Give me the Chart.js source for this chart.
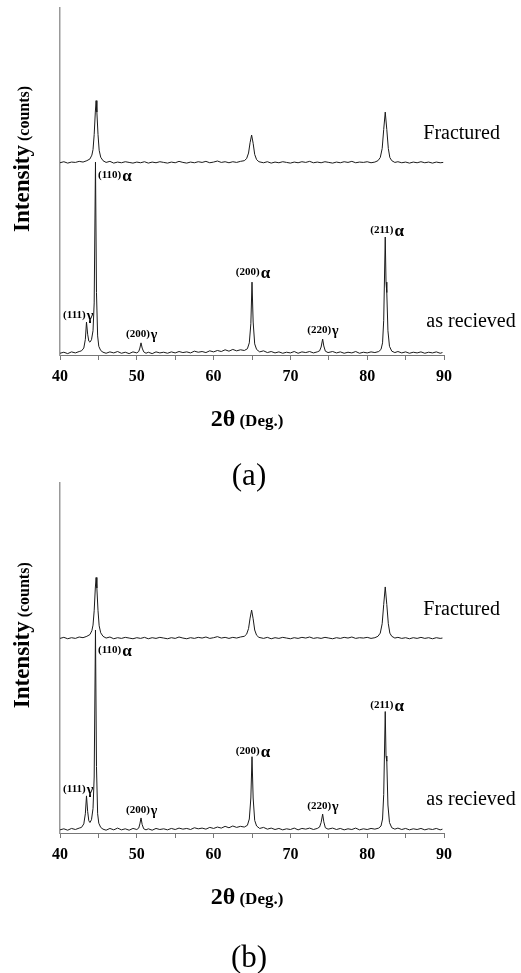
<!DOCTYPE html>
<html><head><meta charset="utf-8">
<script src="https://cdn.jsdelivr.net/npm/chart.js@4.4.1/dist/chart.umd.min.js"></script>
<style>
html,body{margin:0;padding:0;background:#fff;width:521px;height:973px;overflow:hidden;}
.panel{position:absolute;left:0;width:521px;}
#pa{top:0;height:500px;}
#pb{top:475px;height:498px;}
</style></head><body>
<div class="panel" id="pa"><canvas id="ca" width="521" height="500"></canvas></div>
<div class="panel" id="pb"><canvas id="cb" width="521" height="498"></canvas></div>
<script>
// ---- data (2θ in degrees, intensity in arbitrary units, traces offset) ----
const xTicks = [40, 50, 60, 70, 80, 90];
const seriesNames = ['Fractured', 'as recieved'];
const panelNames = ['(a)', '(b)'];
const peakHkl = ['(111)', '(110)', '(200)', '(200)', '(220)', '(211)'];
const peakPhase = ['γ', 'α', 'γ', 'α', 'γ', 'α'];

const fracturedA = [[40.0,55.4],[40.5,55.7],[41.0,55.3],[41.5,55.6],[42.0,55.5],[42.5,55.8],[43.0,55.6],[43.5,56.0],[43.9,56.5],[44.15,57.6],[44.3,59.2],[44.45,63.5],[44.6,70],[44.7,73.3],[44.8,70],[44.95,63.5],[45.1,59],[45.3,57],[45.6,56.0],[46.0,55.5],[46.5,55.8],[47.0,55.3],[47.5,55.6],[48.0,55.4],[48.5,55.7],[49.0,55.5],[49.5,55.3],[50.0,55.6],[50.5,55.4],[51.0,55.7],[51.5,55.3],[52.0,55.6],[52.5,55.4],[53.0,55.7],[53.5,55.5],[54.0,55.3],[54.5,55.6],[55.0,55.4],[55.5,55.8],[56.0,55.5],[56.5,55.3],[57.0,55.6],[57.5,55.4],[58.0,55.7],[58.5,55.5],[59.0,55.8],[59.5,55.4],[60.0,55.6],[60.5,55.9],[61.0,55.5],[61.5,55.7],[62.0,55.4],[62.5,55.7],[63.0,55.5],[63.5,55.8],[64.0,56.0],[64.3,56.6],[64.55,58.2],[64.75,61.2],[64.95,63.4],[65.15,61.0],[65.35,57.8],[65.6,56.3],[65.9,55.7],[66.5,55.4],[67.0,55.7],[67.5,55.3],[68.0,55.6],[68.5,55.4],[69.0,55.7],[69.5,55.5],[70.0,55.3],[70.5,55.6],[71.0,55.4],[71.5,55.7],[72.0,55.5],[72.5,55.8],[73.0,55.4],[73.5,55.6],[74.0,55.4],[74.5,55.7],[75.0,55.5],[75.5,55.3],[76.0,55.6],[76.5,55.4],[77.0,55.7],[77.5,55.5],[78.0,55.8],[78.5,55.4],[79.0,55.6],[79.5,55.5],[80.0,55.7],[80.5,55.4],[81.0,55.6],[81.4,56.0],[81.7,56.9],[81.95,59.5],[82.15,65],[82.35,70.0],[82.55,65],[82.75,59.5],[82.95,56.9],[83.2,56.0],[83.6,55.5],[84.0,55.7],[84.5,55.4],[85.0,55.6],[85.5,55.3],[86.0,55.6],[86.5,55.4],[87.0,55.7],[87.5,55.4],[88.0,55.6],[88.5,55.3],[89.0,55.6],[89.5,55.4],[89.9,55.5]];

const asReceivedA = [[40.0,0.5],[40.5,0.8],[41.0,0.4],[41.5,0.9],[42.0,0.6],[42.5,1.0],[42.8,1.2],[43.1,2.0],[43.3,4.5],[43.45,9.5],[43.6,6.0],[43.75,4.0],[43.9,3.7],[44.1,4.4],[44.3,7.0],[44.45,15],[44.62,55.6],[44.75,18],[44.9,5.5],[45.05,2.5],[45.3,1.3],[45.6,0.8],[46.0,0.5],[46.5,0.9],[47.0,0.6],[47.5,1.0],[48.0,0.5],[48.5,0.8],[49.0,0.4],[49.5,0.9],[50.0,0.6],[50.25,1.0],[50.4,2.0],[50.55,3.5],[50.7,2.0],[50.9,0.9],[51.2,0.5],[51.5,0.8],[52.0,0.4],[52.5,0.9],[53.0,0.6],[53.5,0.8],[54.0,0.5],[54.5,0.9],[55.0,0.6],[55.5,1.0],[56.0,0.7],[56.5,0.9],[57.0,0.6],[57.5,1.1],[58.0,0.8],[58.5,1.0],[59.0,0.7],[59.5,1.2],[60.0,0.9],[60.5,1.3],[61.0,1.0],[61.5,1.5],[62.0,1.1],[62.5,1.6],[63.0,1.2],[63.5,1.5],[64.0,1.3],[64.4,1.8],[64.65,3.5],[64.85,9],[65.0,21.0],[65.15,9.5],[65.35,3.2],[65.6,1.6],[66.0,0.9],[66.5,1.2],[67.0,0.7],[67.5,1.0],[68.0,0.6],[68.5,0.9],[69.0,0.5],[69.5,0.8],[70.0,0.6],[70.5,1.0],[71.0,0.5],[71.5,0.9],[72.0,0.7],[72.5,1.0],[73.0,0.6],[73.5,0.9],[73.8,1.2],[74.0,2.3],[74.2,4.6],[74.35,2.6],[74.55,1.1],[74.9,0.7],[75.5,1.0],[76.0,0.6],[76.5,0.9],[77.0,0.5],[77.5,0.8],[78.0,0.6],[78.5,1.0],[79.0,0.5],[79.5,0.8],[80.0,0.6],[80.5,0.9],[81.0,0.7],[81.5,1.0],[81.8,1.6],[82.0,3.5],[82.15,10],[82.35,34.0],[82.45,21],[82.55,18],[82.7,7],[82.9,2.5],[83.2,1.1],[83.6,0.7],[84.0,1.0],[84.5,0.6],[85.0,0.9],[85.5,0.5],[86.0,0.8],[86.5,0.6],[87.0,0.9],[87.5,0.5],[88.0,0.8],[88.5,0.6],[89.0,0.9],[89.5,0.5],[89.8,0.7]];

const fracturedB = [[40.0,55.6],[40.5,55.9],[41.0,55.5],[41.5,55.8],[42.0,55.6],[42.5,56.0],[43.0,55.8],[43.5,56.2],[43.9,56.7],[44.15,57.8],[44.3,59.4],[44.45,63.5],[44.6,70],[44.7,73.0],[44.8,70],[44.95,63.5],[45.1,59.2],[45.3,57.2],[45.6,56.2],[46.0,55.7],[46.5,56.0],[47.0,55.5],[47.5,55.8],[48.0,55.6],[48.5,55.9],[49.0,55.7],[49.5,55.5],[50.0,55.8],[50.5,55.6],[51.0,55.9],[51.5,55.5],[52.0,55.8],[52.5,55.6],[53.0,55.9],[53.5,55.7],[54.0,55.5],[54.5,55.8],[55.0,55.6],[55.5,56.0],[56.0,55.7],[56.5,55.5],[57.0,55.8],[57.5,55.6],[58.0,55.9],[58.5,55.7],[59.0,56.0],[59.5,55.6],[60.0,55.8],[60.5,56.1],[61.0,55.7],[61.5,55.9],[62.0,55.6],[62.5,55.9],[63.0,55.7],[63.5,56.0],[64.0,56.2],[64.3,56.8],[64.55,58.4],[64.75,61.4],[64.95,63.7],[65.15,61.2],[65.35,58.0],[65.6,56.5],[65.9,55.9],[66.5,55.6],[67.0,55.9],[67.5,55.5],[68.0,55.8],[68.5,55.6],[69.0,55.9],[69.5,55.7],[70.0,55.5],[70.5,55.8],[71.0,55.6],[71.5,55.9],[72.0,55.7],[72.5,56.0],[73.0,55.6],[73.5,55.8],[74.0,55.6],[74.5,55.9],[75.0,55.7],[75.5,55.5],[76.0,55.8],[76.5,55.6],[77.0,55.9],[77.5,55.7],[78.0,56.0],[78.5,55.6],[79.0,55.8],[79.5,55.7],[80.0,55.9],[80.5,55.6],[81.0,55.8],[81.4,56.2],[81.7,57.1],[81.95,59.8],[82.15,65.3],[82.35,70.3],[82.55,65.3],[82.75,59.8],[82.95,57.1],[83.2,56.2],[83.6,55.7],[84.0,55.9],[84.5,55.6],[85.0,55.8],[85.5,55.5],[86.0,55.8],[86.5,55.6],[87.0,55.9],[87.5,55.6],[88.0,55.8],[88.5,55.5],[89.0,55.8],[89.5,55.6],[89.8,55.7]];

const asReceivedB = [[40.0,0.9],[40.5,1.2],[41.0,0.8],[41.5,1.3],[42.0,1.0],[42.5,1.4],[42.8,1.6],[43.1,2.6],[43.3,5.5],[43.45,10.6],[43.6,6.2],[43.75,3.5],[43.9,3.0],[44.1,3.8],[44.3,7.0],[44.45,16],[44.62,58],[44.75,19],[44.9,5.5],[45.05,2.8],[45.3,1.6],[45.6,1.1],[46.0,0.8],[46.5,1.3],[47.0,0.9],[47.5,1.4],[48.0,0.9],[48.5,1.2],[49.0,0.8],[49.5,1.3],[50.0,1.0],[50.25,1.4],[50.4,2.6],[50.55,4.3],[50.7,2.4],[50.9,1.2],[51.2,0.9],[51.5,1.2],[52.0,0.8],[52.5,1.3],[53.0,1.0],[53.5,1.2],[54.0,0.9],[54.5,1.3],[55.0,1.0],[55.5,1.4],[56.0,1.1],[56.5,1.3],[57.0,1.0],[57.5,1.5],[58.0,1.2],[58.5,1.4],[59.0,1.1],[59.5,1.6],[60.0,1.3],[60.5,1.7],[61.0,1.4],[61.5,1.9],[62.0,1.5],[62.5,2.0],[63.0,1.6],[63.5,1.9],[64.0,1.7],[64.4,2.2],[64.65,4.0],[64.85,10],[65.0,21.8],[65.15,10],[65.35,3.6],[65.6,2.0],[66.0,1.3],[66.5,1.6],[67.0,1.1],[67.5,1.4],[68.0,1.0],[68.5,1.3],[69.0,0.9],[69.5,1.2],[70.0,1.0],[70.5,1.4],[71.0,0.9],[71.5,1.3],[72.0,1.1],[72.5,1.4],[73.0,1.0],[73.5,1.3],[73.8,1.7],[74.0,3.0],[74.2,5.4],[74.35,3.2],[74.55,1.5],[74.9,1.1],[75.5,1.4],[76.0,1.0],[76.5,1.3],[77.0,0.9],[77.5,1.2],[78.0,1.0],[78.5,1.4],[79.0,0.9],[79.5,1.2],[80.0,1.0],[80.5,1.3],[81.0,1.1],[81.5,1.4],[81.8,2.0],[82.0,4.0],[82.15,11],[82.35,34.7],[82.45,22],[82.55,20.5],[82.7,8],[82.9,3.0],[83.2,1.5],[83.6,1.1],[84.0,1.4],[84.5,1.0],[85.0,1.3],[85.5,0.9],[86.0,1.2],[86.5,1.0],[87.0,1.3],[87.5,0.9],[88.0,1.2],[88.5,1.0],[89.0,1.3],[89.5,0.9],[89.8,1.1]];

// ---- label placement (data coordinates) ----
const peakLabelPosA = [[40.4,10.7],[44.95,51.0],[48.6,5.2],[62.9,23.1],[72.2,6.3],[80.4,35.2]];
const peakLabelPosB = [[40.4,11.6],[44.95,51.5],[48.6,5.6],[62.9,22.6],[72.2,6.8],[80.4,35.6]];
const seriesLabelPos = [[87.3,62.2],[87.7,8.1]];

const SERIF = '"Liberation Serif", "Times New Roman", serif';

const textPlugin = {
  id: 'xrdText',
  afterDraw(chart, args, opts) {
    const ctx = chart.ctx, xs = chart.scales.x, ys = chart.scales.y, ca = chart.chartArea;
    ctx.save();
    ctx.fillStyle = '#000';
    ctx.textBaseline = 'alphabetic';
    ctx.textAlign = 'left';
    // peak labels
    opts.peakPos.forEach((p, i) => {
      const px = xs.getPixelForValue(p[0]), py = ys.getPixelForValue(p[1]);
      ctx.font = 'bold 11px ' + SERIF;
      ctx.fillText(peakHkl[i], px, py);
      const w = ctx.measureText(peakHkl[i]).width;
      const greek = peakPhase[i];
      ctx.font = (greek === 'α' ? 'bold 17px ' : 'bold 14px ') + SERIF;
      ctx.fillText(greek, px + w + 1, py + (greek === 'α' ? 3 : 2));
    });
    // series names
    ctx.font = '20px ' + SERIF;
    seriesNames.forEach((s, i) => {
      ctx.fillText(s, xs.getPixelForValue(seriesLabelPos[i][0]), ys.getPixelForValue(seriesLabelPos[i][1]));
    });
    // y title (rotated, mixed sizes)
    ctx.save();
    const cy = ca.top + (ca.bottom - ca.top) * 0.435;
    ctx.translate(29, cy);
    ctx.rotate(-Math.PI / 2);
    ctx.font = 'bold 23px ' + SERIF;
    const t1 = 'Intensity';
    const w1 = ctx.measureText(t1).width;
    ctx.font = 'bold 16px ' + SERIF;
    const t2 = ' (counts)';
    const w2 = ctx.measureText(t2).width;
    let sx = -(w1 + w2) / 2;
    ctx.font = 'bold 23px ' + SERIF;
    ctx.fillText(t1, sx, 0);
    ctx.font = 'bold 16px ' + SERIF;
    ctx.fillText(t2, sx + w1, 0);
    ctx.restore();
    // x title
    const bx = ca.bottom + opts.xTitleDy;
    ctx.font = 'bold 24px ' + SERIF;
    const a1 = '2θ';
    const aw1 = ctx.measureText(a1).width;
    ctx.font = 'bold 17px ' + SERIF;
    const a2 = ' (Deg.)';
    const aw2 = ctx.measureText(a2).width;
    let ax = 247 - (aw1 + aw2) / 2;
    ctx.font = 'bold 24px ' + SERIF;
    ctx.fillText(a1, ax, bx);
    ctx.font = 'bold 17px ' + SERIF;
    ctx.fillText(a2, ax + aw1, bx);
    // panel letter
    ctx.font = '31px ' + SERIF;
    ctx.textAlign = 'center';
    ctx.fillText(opts.panel, 249, ca.bottom + opts.panelDy);
    ctx.restore();
  }
};

function makeChart(id, fractured, asReceived, peakPos, xAxisH, panel, panelDy) {
  const toPts = arr => arr.map(p => ({x: p[0], y: p[1]}));
  return new Chart(document.getElementById(id), {
    type: 'line',
    data: {
      datasets: [
        {label: seriesNames[0], data: toPts(fractured), borderColor: '#1a1a1a', borderWidth: 1, pointRadius: 0, tension: 0, fill: false},
        {label: seriesNames[1], data: toPts(asReceived), borderColor: '#1a1a1a', borderWidth: 1, pointRadius: 0, tension: 0, fill: false}
      ]
    },
    options: {
      responsive: false,
      animation: false,
      layout: {padding: {left: 60, right: 77, top: 8, bottom: 0}},
      plugins: {
        legend: {display: false},
        tooltip: {enabled: false},
        xrdText: {peakPos: peakPos, panel: panel, panelDy: panelDy, xTitleDy: 71}
      },
      scales: {
        x: {
          type: 'linear', min: 40, max: 90,
          afterFit: s => { s.height = xAxisH; },
          ticks: {
            stepSize: 5, autoSkip: false, maxRotation: 0, padding: 7, color: '#000',
            font: {family: SERIF, size: 16, weight: 'bold'},
            callback: v => (xTicks.includes(v) ? String(v) : '')
          },
          grid: {display: true, drawOnChartArea: false, drawTicks: true, tickLength: 5, color: '#777', lineWidth: 1},
          border: {display: true, color: '#777', width: 1}
        },
        y: {
          min: 0, max: 100,
          afterFit: s => { s.width = 0; },
          ticks: {display: false},
          grid: {display: false, drawTicks: false},
          border: {display: true, color: '#999', width: 1.5}
        }
      }
    },
    plugins: [textPlugin]
  });
}

makeChart('ca', fracturedA, asReceivedA, peakLabelPosA, 145, panelNames[0], 130);
makeChart('cb', fracturedB, asReceivedB, peakLabelPosB, 140, panelNames[1], 134);
</script>
</body></html>
